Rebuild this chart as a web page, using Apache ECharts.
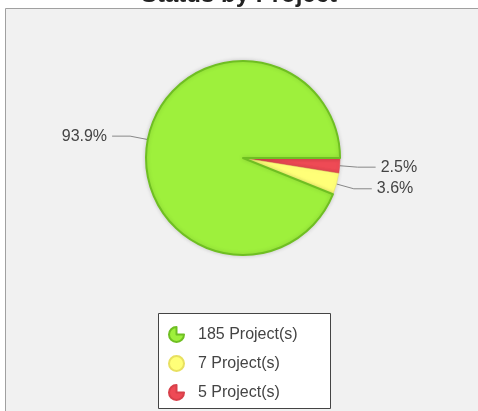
<!DOCTYPE html>
<html>
<head>
<meta charset="utf-8">
<script src="https://cdn.jsdelivr.net/npm/echarts@6/dist/echarts.min.js"></script>
<style>
  html, body { margin: 0; padding: 0; background: #fff; }
  #chart { width: 478px; height: 411px; }
</style>
</head>
<body>
<div id="chart"></div>
<script>
// slices in drawing order (clockwise from 3 o'clock)
var names = ['5 Project(s)', '7 Project(s)', '185 Project(s)'];
var counts = [5, 7, 185];
var colors = ['#ee4a55', '#ffff78', '#9ef03c'];
var borders = ['#d8404a', '#e8e060', '#6fbf22'];
var legendOrder = ['185 Project(s)', '7 Project(s)', '5 Project(s)'];

var total = counts.reduce(function (a, b) { return a + b; }, 0);
var wedgeIcon = 'path://M10,10 L10,0 A10,10 0 1,0 20,10 Z';

var chart = echarts.init(document.getElementById('chart'));

chart.setOption({
  backgroundColor: '#fff',
  animation: false,
  title: {
    text: 'Status by Project',
    left: 'center',
    top: -22,
    textStyle: { fontFamily: 'Liberation Sans', fontSize: 24, fontWeight: 'bold', color: '#222' }
  },
  graphic: [
    {
      type: 'rect',
      shape: { x: 5.5, y: 8.5, width: 480, height: 420 },
      style: { fill: '#f1f1f1', stroke: '#a0a0a0', lineWidth: 1 },
      z: -10
    },
    {
      type: 'rect',
      shape: { x: 158.5, y: 313.5, width: 172, height: 95 },
      style: { fill: '#fff', stroke: '#444', lineWidth: 1 },
      z: -5
    }
  ],
  legend: {
    orient: 'vertical',
    left: 168,
    top: 326,
    padding: 0,
    itemWidth: 15,
    itemHeight: 15,
    itemGap: 12,
    data: legendOrder.map(function (n) {
      return { name: n, icon: n === '7 Project(s)' ? 'circle' : wedgeIcon };
    }),
    textStyle: { fontFamily: 'Liberation Sans', fontSize: 16, color: '#444', padding: [0, 0, 0, 9] }
  },
  series: [{
    type: 'pie',
    center: [243, 158],
    radius: 97,
    startAngle: 0,
    clockwise: true,
    avoidLabelOverlap: true,
    label: {
      formatter: function (p) { return (Math.round(p.value / total * 1000) / 10).toFixed(1) + '%'; },
      fontFamily: 'Liberation Sans',
      fontSize: 16,
      color: '#444'
    },
    labelLine: {
      length: 18,
      length2: 18,
      lineStyle: { color: '#888', width: 1 }
    },
    itemStyle: {
      shadowBlur: 4,
      shadowColor: 'rgba(0,0,0,0.15)'
    },
    data: names.map(function (n, i) {
      return {
        name: n,
        value: counts[i],
        itemStyle: { color: colors[i], borderColor: borders[i], borderWidth: i === 2 ? 2 : 0.5 }
      };
    })
  }]
});
</script>
</body>
</html>
